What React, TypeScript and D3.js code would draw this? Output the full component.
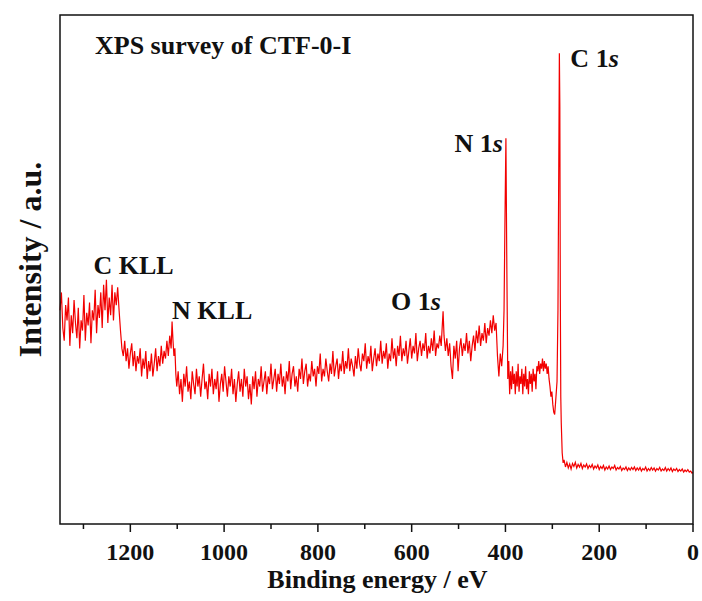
import React from "react";
import * as d3 from "d3";

// [binding energy (eV), intensity (a.u.)]
const cKllRegion: [number, number][] = [
  [1350, 420], [1347, 455], [1344, 385], [1341, 360], [1338, 430], [1335, 400], [1332, 445], [1329, 350],
  [1326, 410], [1323, 375], [1320, 440], [1317, 395], [1314, 365], [1311, 425], [1308, 345], [1305, 400],
  [1302, 380], [1299, 450], [1296, 360], [1293, 415], [1290, 390], [1287, 435], [1284, 355], [1281, 420],
  [1278, 400], [1275, 460], [1272, 375], [1269, 430], [1266, 405], [1263, 455], [1260, 385], [1257, 470],
  [1254, 420], [1251, 480], [1248, 395], [1245, 445], [1242, 410], [1239, 470], [1236, 400], [1233, 455],
  [1230, 430], [1227, 465], [1224, 420],
];
const nKllRegion: [number, number][] = [
  [1221, 380], [1218, 345], [1215, 330], [1212, 360], [1209, 320], [1206, 345], [1203, 305], [1200, 335],
  [1197, 355], [1194, 310], [1191, 340], [1188, 300], [1185, 330], [1182, 315], [1179, 345], [1176, 290],
  [1173, 325], [1170, 305], [1167, 340], [1164, 285], [1161, 320], [1158, 300], [1155, 335], [1152, 290],
  [1149, 315], [1146, 345], [1143, 300], [1140, 330], [1137, 310], [1134, 350], [1131, 315], [1128, 340],
  [1125, 325], [1122, 360], [1119, 330], [1116, 370], [1113, 345], [1111, 398], [1109, 360], [1107, 330],
  [1105, 345], [1103, 295], [1101, 270],
];
const midRegion: [number, number][] = [
  [1098, 300], [1095, 255], [1092, 285], [1089, 240], [1086, 295], [1083, 270], [1080, 310], [1077, 260],
  [1074, 280], [1071, 245], [1068, 300], [1065, 275], [1062, 255], [1059, 305], [1056, 270], [1053, 290],
  [1050, 250], [1047, 285], [1044, 315], [1041, 265], [1038, 280], [1035, 245], [1032, 295], [1029, 270],
  [1026, 305], [1023, 255], [1020, 285], [1017, 265], [1014, 300], [1011, 240], [1008, 275], [1005, 295],
  [1002, 260], [999, 310], [996, 280], [993, 250], [990, 290], [987, 270], [984, 305], [981, 255],
  [978, 285], [975, 240], [972, 275], [969, 300], [966, 260], [963, 285], [960, 250], [957, 305],
  [954, 270], [951, 290], [948, 245], [945, 275], [942, 235], [939, 290], [936, 265], [933, 300],
  [930, 250], [927, 285], [924, 270], [921, 310], [918, 260], [915, 280], [912, 300], [909, 255],
  [906, 290], [903, 275], [900, 315], [897, 265], [894, 285], [891, 305], [888, 260], [885, 295],
  [882, 275], [879, 315], [876, 270], [873, 290], [870, 255], [867, 300], [864, 280], [861, 320],
  [858, 265], [855, 295], [852, 310], [849, 270], [846, 290], [843, 260], [840, 305], [837, 285],
  [834, 325], [831, 275], [828, 300], [825, 315], [822, 270], [819, 295], [816, 280], [813, 320],
  [810, 290], [807, 305], [804, 270], [801, 310], [798, 295], [795, 335], [792, 280], [789, 305],
  [786, 290], [783, 325], [780, 300], [777, 280], [774, 315], [771, 295], [768, 340], [765, 290],
  [762, 310], [759, 325], [756, 285], [753, 315], [750, 300], [747, 340], [744, 295], [741, 320],
  [738, 305], [735, 345], [732, 300], [729, 325], [726, 310], [723, 290], [720, 330], [717, 305],
  [714, 345], [711, 315], [708, 300], [705, 335], [702, 320], [699, 355], [696, 305], [693, 330],
  [690, 315], [687, 350], [684, 300], [681, 325], [678, 345], [675, 310], [672, 335], [669, 320],
  [666, 360], [663, 315], [660, 340], [657, 325], [654, 355], [651, 305], [648, 335], [645, 320],
  [642, 365], [639, 325], [636, 345], [633, 310], [630, 350], [627, 330], [624, 370], [621, 320],
  [618, 345], [615, 330], [612, 360], [609, 315], [606, 340], [603, 365], [600, 325], [597, 350],
  [594, 335], [591, 375], [588, 320], [585, 345], [582, 360], [579, 330], [576, 355], [573, 340],
  [570, 375], [567, 325], [564, 350], [561, 335], [558, 365], [555, 340], [552, 380], [549, 330],
  [546, 355], [543, 345], [540, 370],
];
const o1sRegion: [number, number][] = [
  [537, 350], [535, 385], [533, 418], [531, 370], [528, 340], [525, 365], [522, 330], [519, 355],
  [516, 310], [513, 285], [510, 350], [507, 325], [504, 360], [501, 300], [498, 345], [495, 365],
  [492, 330], [489, 355], [486, 340], [483, 375], [480, 335], [477, 360], [474, 320], [471, 350],
  [468, 370], [465, 340], [462, 380], [459, 355], [456, 390], [453, 350], [450, 375], [447, 360],
  [444, 395], [441, 355], [438, 385], [435, 370], [432, 400], [429, 375], [426, 410], [423, 380],
  [420, 395], [417, 330], [414, 290], [411, 335], [408, 310], [405, 350],
];
const n1sRegion: [number, number][] = [
  [403, 420], [401, 600], [399, 758], [397, 500], [395, 285], [393, 320], [391, 255], [389, 300],
  [387, 265], [385, 310], [383, 275], [381, 295], [379, 255], [377, 300], [375, 270], [373, 315],
  [371, 260], [369, 290], [367, 275], [365, 305], [363, 255], [361, 295], [359, 270], [357, 310],
  [355, 265], [353, 285], [351, 255], [349, 300], [347, 275], [345, 295], [343, 260], [341, 305],
  [339, 280], [337, 295], [335, 265], [333, 310], [331, 300], [329, 320], [327, 295], [325, 315],
  [323, 305], [321, 325], [319, 300], [317, 320], [315, 305], [313, 315], [311, 295], [309, 310],
  [307, 285], [305, 270], [303, 250], [301, 260], [299, 235], [297, 220], [295, 215], [293, 240],
];
const c1sRegion: [number, number][] = [
  [290, 280], [288, 420], [286, 750], [285, 925], [284, 820], [283, 450], [282, 250], [281, 200],
  [279, 140], [277, 120],
];
const tailRegion: [number, number][] = [
  [275, 126], [272, 112], [269, 121], [266, 110], [263, 118], [260, 108], [257, 119], [254, 113],
  [251, 121], [248, 110], [245, 117], [242, 112], [239, 119], [236, 109], [233, 116], [230, 112],
  [227, 118], [224, 109], [221, 115], [218, 111], [215, 117], [212, 108], [209, 114], [206, 110],
  [203, 116], [200, 107], [197, 113], [194, 109], [191, 115], [188, 106], [185, 112], [182, 108],
  [179, 114], [176, 107], [173, 112], [170, 109], [167, 115], [164, 106], [161, 111], [158, 108],
  [155, 113], [152, 105], [149, 110], [146, 107], [143, 112], [140, 105], [137, 110], [134, 106],
  [131, 111], [128, 107], [125, 112], [122, 105], [119, 110], [116, 106], [113, 111], [110, 104],
  [107, 109], [104, 106], [101, 112], [98, 104], [95, 109], [92, 105], [89, 111], [86, 106],
  [83, 110], [80, 104], [77, 109], [74, 106], [71, 111], [68, 104], [65, 108], [62, 105],
  [59, 111], [56, 104], [53, 109], [50, 105], [47, 110], [44, 103], [41, 108], [38, 105],
  [35, 109], [32, 103], [29, 107], [26, 104], [23, 108], [20, 102], [17, 106], [14, 103],
  [11, 107], [8, 102], [5, 104], [2, 100], [0, 101],
];

const majorTicks = [1200, 1000, 800, 600, 400, 200, 0];
const minorTicks = [1300, 1100, 900, 700, 500, 300, 100];

const peakLabels = [
  { main: "C 1", ital: "s", eV: 285, I: 925 },
  { main: "N 1", ital: "s", eV: 399, I: 758 },
  { main: "O 1", ital: "s", eV: 533, I: 418 },
  { main: "C KLL", ital: "", eV: 1251, I: 480 },
  { main: "N KLL", ital: "", eV: 1111, I: 398 },
];

const W = 702;
const H = 601;
const M = { left: 60, right: 693, top: 15, bottom: 524 };
const FONT = "'Liberation Serif', 'Times New Roman', serif";

export default function App() {
  const data = [
    ...cKllRegion, ...nKllRegion, ...midRegion, ...o1sRegion,
    ...n1sRegion, ...c1sRegion, ...tailRegion,
  ];
  const x = d3.scaleLinear().domain([1350, 0]).range([M.left, M.right]);
  const y = d3.scaleLinear().domain([0, 1000]).range([M.bottom, M.top]);
  const line = d3.line<[number, number]>().x((d) => x(d[0])).y((d) => y(d[1]));

  // label placements relative to peaks (in px)
  const labelPos = [
    { dx: 11, dy: 14, anchor: "start" },
    { dx: -3, dy: 14, anchor: "end" },
    { dx: -1, dy: -1, anchor: "start", shift: -51 },
    { dx: -13, dy: -6, anchor: "start" },
    { dx: 0, dy: -2, anchor: "start" },
  ];

  return (
    <svg width={W} height={H} style={{ position: "absolute", left: 0, top: 0, background: "#fff" }}>
      <rect x={0} y={0} width={W} height={H} fill="#fff" />
      <path d={line(data) ?? ""} fill="none" stroke="#f20000" strokeWidth={1.2} strokeLinejoin="miter" />
      <rect
        x={M.left}
        y={M.top}
        width={M.right - M.left}
        height={M.bottom - M.top}
        fill="none"
        stroke="#111"
        strokeWidth={1.5}
      />
      {majorTicks.map((t) => (
        <line key={"M" + t} x1={x(t)} x2={x(t)} y1={M.bottom} y2={M.bottom + 8} stroke="#111" strokeWidth={1.5} />
      ))}
      {minorTicks.map((t) => (
        <line key={"m" + t} x1={x(t)} x2={x(t)} y1={M.bottom} y2={M.bottom + 5} stroke="#111" strokeWidth={1.5} />
      ))}
      {majorTicks.map((t) => (
        <text
          key={"L" + t}
          x={x(t)}
          y={560}
          textAnchor="middle"
          fontFamily={FONT}
          fontWeight="bold"
          fontSize={24}
          fill="#111"
        >
          {t}
        </text>
      ))}
      <text x={(M.left + M.right) / 2 + 1} y={588} textAnchor="middle" fontFamily={FONT} fontWeight="bold" fontSize={26} fill="#111">
        Binding energy / eV
      </text>
      <text
        transform={`translate(41, ${(M.top + M.bottom) / 2 - 10}) rotate(-90)`}
        textAnchor="middle"
        fontFamily={FONT}
        fontWeight="bold"
        fontSize={32}
        fill="#111"
      >
        Intensity / a.u.
      </text>
      <text x={95} y={54} fontFamily={FONT} fontWeight="bold" fontSize={26} fill="#111">
        XPS survey of CTF-0-I
      </text>
      {peakLabels.map((p, i) => (
        <text
          key={p.main + p.ital}
          x={x(p.eV) + labelPos[i].dx + (labelPos[i].shift ?? 0)}
          y={y(p.I) + labelPos[i].dy}
          textAnchor={labelPos[i].anchor as any}
          fontFamily={FONT}
          fontWeight="bold"
          fontSize={26}
          fill="#111"
        >
          {p.main}
          {p.ital ? <tspan fontStyle="italic">{p.ital}</tspan> : null}
        </text>
      ))}
    </svg>
  );
}
